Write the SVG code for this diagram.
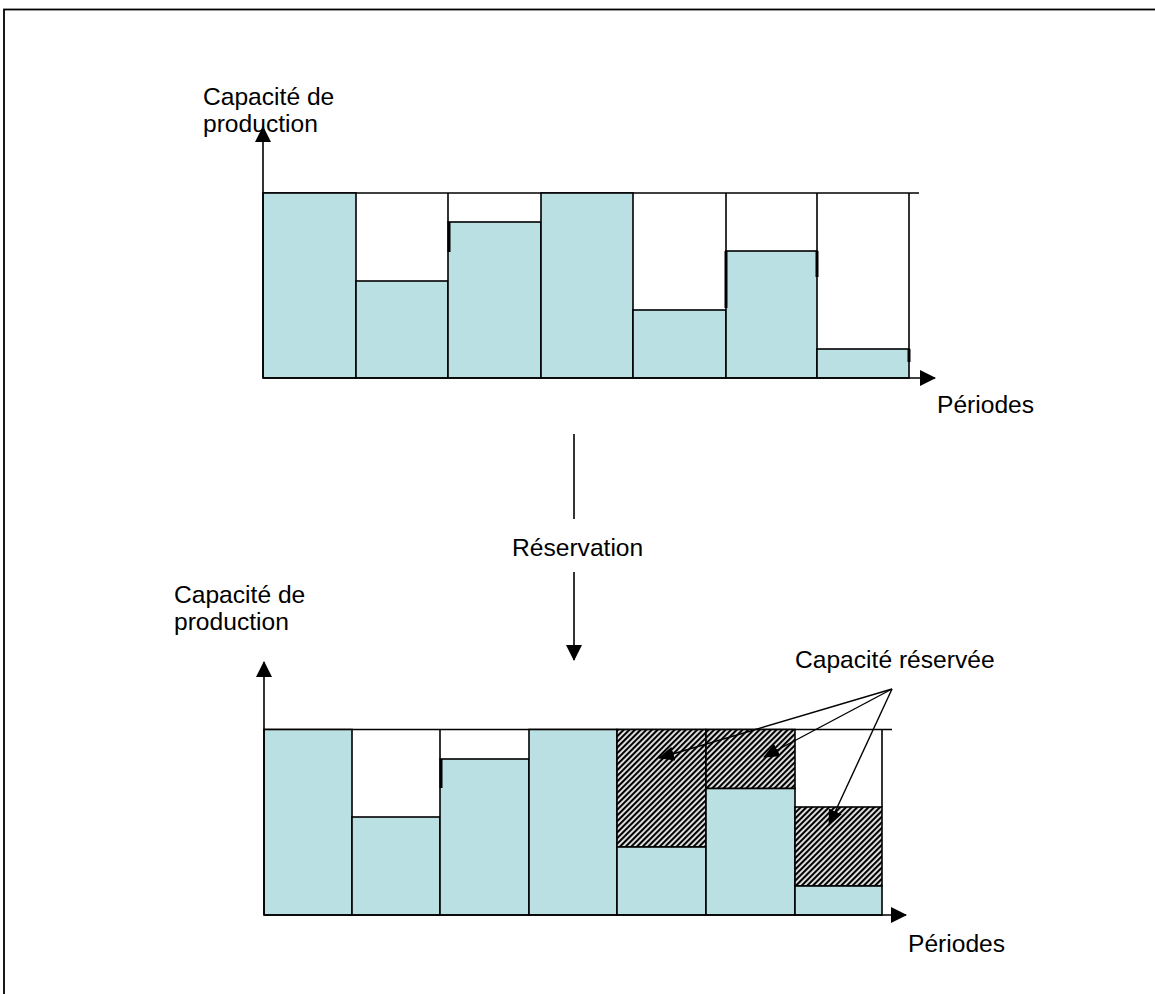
<svg xmlns="http://www.w3.org/2000/svg" width="1155" height="994" viewBox="0 0 1155 994">
<style>
text{font-family:"Liberation Sans",Arial,sans-serif;font-size:24.6px;fill:#000}
.bar{fill:#BBE0E3;stroke:#000;stroke-width:1.6}
.hatch{fill:url(#hatch);stroke:#000;stroke-width:1.6}
.ln{stroke:#000;stroke-width:1.6;fill:none}
.stub{stroke:#000;stroke-width:3;fill:none}
.arr{stroke:#000;stroke-width:1.6;fill:none;marker-end:url(#ah)}
.arr2{stroke:#000;stroke-width:1.4;fill:none;marker-end:url(#ah2)}
</style>
<defs>
<marker id="ah" markerUnits="userSpaceOnUse" markerWidth="16" markerHeight="16" refX="15" refY="8" orient="auto" viewBox="0 0 16 16">
<path d="M0,0 L16,8 L0,16 z" fill="#000"/>
</marker>
<marker id="ah2" markerUnits="userSpaceOnUse" markerWidth="16" markerHeight="14" refX="15" refY="7" orient="auto" viewBox="0 0 16 14">
<path d="M0,0 L16,7 L0,14 z" fill="#000"/>
</marker>
<pattern id="hatch" patternUnits="userSpaceOnUse" width="4" height="4" patternTransform="rotate(45)">
<rect width="4" height="4" fill="#e8e8e8"/>
<rect width="2.1" height="4" fill="#000"/>
</pattern>
</defs>
<rect x="4" y="9.5" width="1200" height="1100" fill="none" stroke="#000" stroke-width="1.8"/>

<g id="chart-top">
<line class="ln" x1="263" y1="193" x2="919" y2="193"/>
<rect class="bar" x="263" y="193" width="93" height="185"/>
<rect class="bar" x="356" y="281" width="92" height="97"/>
<rect class="bar" x="448" y="222" width="93" height="156"/>
<rect class="bar" x="541" y="193" width="92" height="185"/>
<rect class="bar" x="633" y="310" width="93" height="68"/>
<rect class="bar" x="726" y="251" width="91" height="127"/>
<rect class="bar" x="817" y="349" width="92" height="29"/>
<line class="ln" x1="448" y1="193" x2="448" y2="222"/>
<line class="ln" x1="726" y1="193" x2="726" y2="251"/>
<line class="ln" x1="817" y1="193" x2="817" y2="251"/>
<line class="ln" x1="909" y1="193" x2="909" y2="349"/>
<line class="stub" x1="449" y1="222" x2="449" y2="252"/>
<line class="stub" x1="726" y1="251" x2="726" y2="308"/>
<line class="stub" x1="817" y1="251" x2="817" y2="277"/>
<line class="stub" x1="909" y1="349" x2="909" y2="362"/>
<line class="arr" x1="263" y1="378" x2="263" y2="127"/>
<line class="arr" x1="263" y1="378" x2="935" y2="378"/>
</g>

<g id="chart-bottom">
<line class="ln" x1="264" y1="729.5" x2="892" y2="729.5"/>
<rect class="bar" x="264" y="729.5" width="88" height="185.5"/>
<rect class="bar" x="352" y="817" width="88" height="98"/>
<rect class="bar" x="440" y="759" width="89" height="156"/>
<rect class="bar" x="529" y="729.5" width="88" height="185.5"/>
<rect class="hatch" x="617" y="729.5" width="89" height="117.5"/>
<rect class="bar" x="617" y="847" width="89" height="68"/>
<rect class="hatch" x="706" y="729.5" width="89" height="59"/>
<rect class="bar" x="706" y="788.5" width="89" height="126.5"/>
<rect class="hatch" x="795" y="807" width="87" height="79"/>
<rect class="bar" x="795" y="886" width="87" height="29"/>
<line class="ln" x1="440" y1="729.5" x2="440" y2="759"/>
<line class="ln" x1="882" y1="729.5" x2="882" y2="807"/>
<line class="stub" x1="441" y1="759" x2="441" y2="788"/>
<line class="arr" x1="264" y1="915" x2="264" y2="662"/>
<line class="arr" x1="264" y1="915" x2="906" y2="915"/>
</g>

<g id="labels">
<text x="203" y="105">Capacité de</text>
<text x="203" y="132">production</text>
<text x="937" y="413">Périodes</text>
<text x="512" y="556">Réservation</text>
<text x="174" y="603">Capacité de</text>
<text x="174" y="630">production</text>
<text x="795" y="668">Capacité réservée</text>
<text x="908" y="952">Périodes</text>
</g>

<g id="connectors">
<line class="ln" x1="574" y1="434" x2="574" y2="519"/>
<line class="arr" x1="574" y1="572" x2="574" y2="660"/>
<line class="arr2" x1="892" y1="689" x2="659" y2="758"/>
<line class="arr2" x1="892" y1="689" x2="764" y2="757"/>
<line class="arr2" x1="892" y1="689" x2="829" y2="825"/>
</g>
</svg>
